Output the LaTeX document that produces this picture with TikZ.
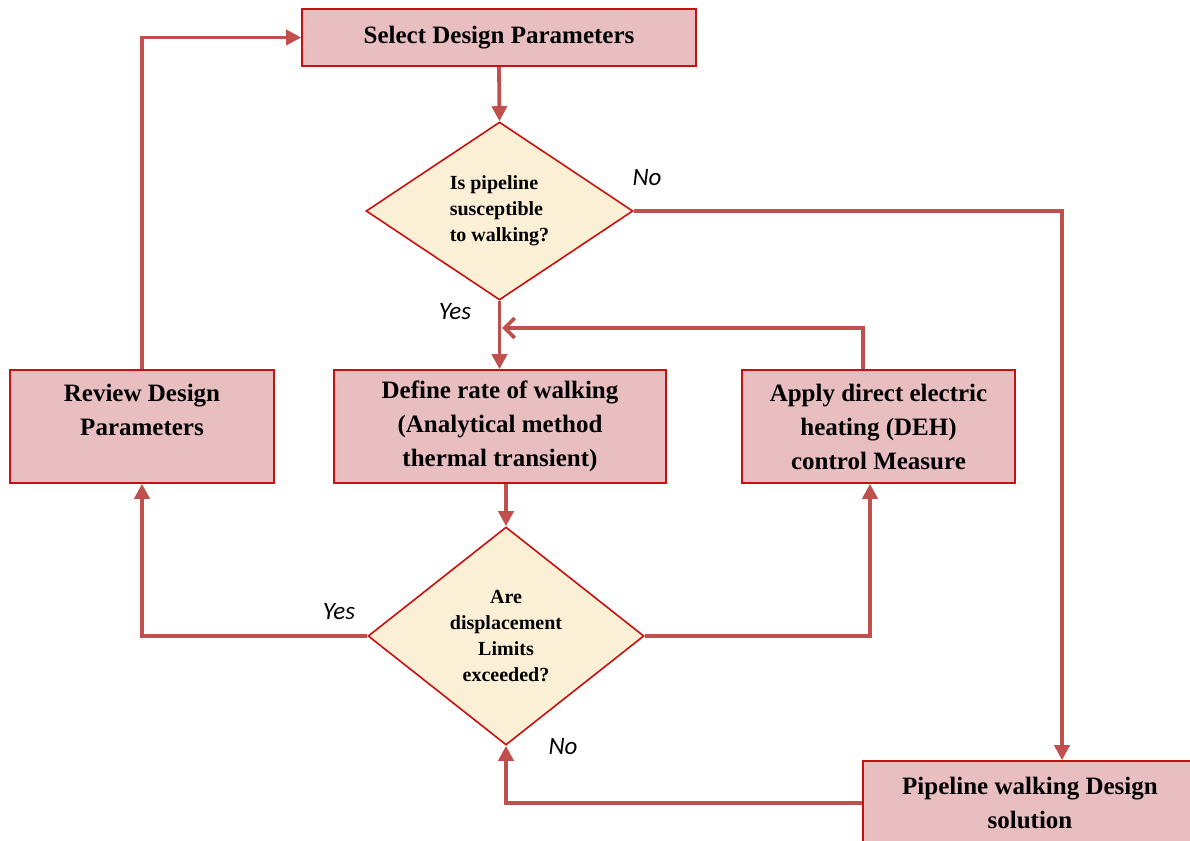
\documentclass[tikz,border=0pt]{standalone}
\usepackage{fontspec}
\setmainfont{Liberation Serif}
\newfontfamily\labelfont{Carlito}
\usetikzlibrary{shapes.geometric,arrows.meta}

\definecolor{boxfill}{RGB}{233,190,193}
\definecolor{boxline}{RGB}{200,16,16}
\definecolor{diafill}{RGB}{251,239,214}
\definecolor{flow}{RGB}{192,80,77}

\begin{document}
\begin{tikzpicture}[x=1pt,y=-1pt,
  procbox/.style={draw=boxline, line width=1.6pt, fill=boxfill, align=center,
    inner sep=0pt, font=\fontsize{25}{34}\selectfont\bfseries},
  decision/.style={diamond, draw=boxline, line width=1.6pt, fill=diafill,
    inner sep=0pt, font=\fontsize{20}{26}\selectfont\bfseries},
  flowline/.style={draw=flow, line width=3.8pt},
  arr/.style={flowline, -{Triangle[length=15pt,width=15pt]}},
  barb/.style={flowline, -{Straight Barb[length=10pt,width=20pt]}},
  answer/.style={font=\labelfont\itshape\fontsize{25}{28}\selectfont, inner sep=0pt}]

\useasboundingbox (0,0) rectangle (1190,840);

% process boxes
\node[procbox, minimum width=394pt, minimum height=57pt] (select) at (499,37.5)
  {Select Design Parameters};
\node[procbox, minimum width=264pt, minimum height=113pt] (review) at (142,426.5)
  {Review Design\\Parameters\\\phantom{X}};
\node[procbox, minimum width=332pt, minimum height=113pt] (define) at (500,426.5)
  {Define rate of walking\\(Analytical method\\thermal transient)};
\node[procbox, minimum width=273pt, minimum height=113pt] (apply) at (878.5,426.5)
  {Apply direct electric\\heating (DEH)\\control Measure};
\node[procbox, minimum width=334pt, minimum height=84pt] (pipe) at (1030,803)
  {Pipeline walking Design\\solution};

% decisions
\node[decision, align=left, minimum width=267pt, minimum height=178pt] (d1) at (499.5,211)
  {Is pipeline\\susceptible\\to walking?};
\node[decision, align=center, minimum width=276pt, minimum height=218pt] (d2) at (506,636)
  {Are\\displacement\\Limits\\exceeded?};

% branch labels
\node[answer] (no1) at (647,178) {No};
\node[answer] (yes1) at (455,312) {Yes};
\node[answer] (yes2) at (339,612) {Yes};
\node[answer] (no2) at (563,747) {No};

% connectors
\coordinate (join) at ([xshift=2.5pt]d1.south |- 0,328);
\draw[arr] (select.south) -- (d1.north);
\draw[arr] (d1.east) -| ([xshift=32pt]pipe.north);
\draw[arr] (d1.south) -- (d1.south |- define.north);
\draw[barb] ([xshift=-15.5pt]apply.north) |- (join);
\draw[arr] (define.south -| d2.north) -- (d2.north);
\draw[arr] (d2.west) -| (review.south);
\draw[arr] (d2.east) -| ([xshift=-8.5pt]apply.south);
\draw[arr] (pipe.west) -| (d2.south);
\draw[arr] (review.north) |- (select.west);
\end{tikzpicture}
\end{document}
